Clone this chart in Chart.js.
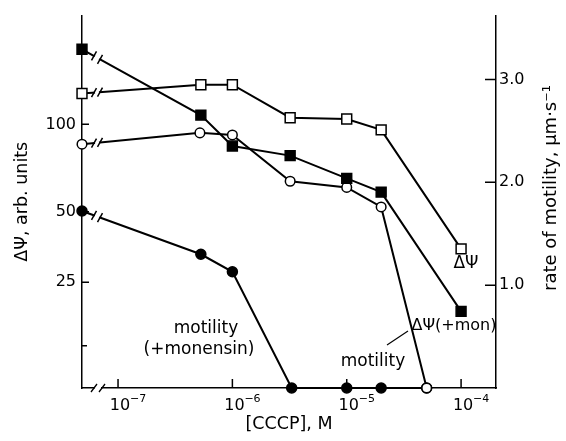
<!DOCTYPE html>
<html>
<head>
<meta charset="utf-8">
<script src="https://cdn.jsdelivr.net/npm/chart.js@4"></script>
<style>
  body { margin: 0; background: #fff; }
  canvas { display: block; }
</style>
</head>
<body>
<canvas id="chart" width="566" height="441"></canvas>
<script>
// concentrations of CCCP (M); the first entry is the control sitting on the axis break
const concSquares = [4.84e-8, 5.3e-7, 1e-6, 3.2e-6, 1e-5, 2e-5, 1e-4];
const concCircles = [4.84e-8, 5.2e-7, 1e-6, 3.2e-6, 1e-5, 2e-5, 5e-5];
const concMon = [4.84e-8, 5.3e-7, 1e-6, 3.3e-6, 1e-5, 2e-5, 5e-5];

// membrane potential, arb. units (left axis)
const dPsi = [125, 133, 133, 105, 104, 96, 35.5];
const dPsiMon = [170, 107, 85, 79, 66, 59, 17.4];

// rate of motility, um/s (right axis)
const motility = [2.37, 2.48, 2.46, 2.01, 1.95, 1.76, 0];
const motilityMon = [1.72, 1.30, 1.13, 0, 0, 0, 0];

// axis ticks
const xTickValues = [1e-7, 1e-6, 1e-5, 1e-4];
const xTickExponents = ['−7', '−6', '−5', '−4'];
const leftTickValues = [10, 25, 50, 100];
const leftTickLabels = ['', '25', '50', '100'];
const rightTickValues = [1, 2, 3];
const rightTickLabels = ['1.0', '2.0', '3.0'];

const FONT = '"DejaVu Sans", "Liberation Sans", sans-serif';

// the left axis of the original is not linear; a log(v + C) scale fits its ticks
const C = 22;
class OffsetLogScale extends Chart.LinearScale {
  getPixelForValue(v) {
    const a = Math.log(this.min + C), b = Math.log(this.max + C);
    return this.getPixelForDecimal((Math.log(v + C) - a) / (b - a));
  }
  getValueForPixel(p) {
    const a = Math.log(this.min + C), b = Math.log(this.max + C);
    return Math.exp(a + this.getDecimalForPixel(p) * (b - a)) - C;
  }
}
OffsetLogScale.id = 'offsetlog';
OffsetLogScale.defaults = { ticks: { callback: v => String(v) } };
Chart.register(OffsetLogScale);

function pts(xs, ys) {
  return xs.map((x, i) => ({ x: x, y: ys[i] }));
}

const decor = {
  id: 'decor',
  beforeDatasetsDraw(chart) {
    const { ctx, chartArea: a, scales } = chart;
    ctx.save();
    // inward tick marks
    ctx.strokeStyle = '#000';
    ctx.lineWidth = 1.5;
    ctx.beginPath();
    leftTickValues.forEach((v, i) => {
      const y = scales.y.getPixelForValue(v);
      ctx.moveTo(a.left, y);
      ctx.lineTo(a.left + (leftTickLabels[i] ? 7 : 5), y);
    });
    rightTickValues.forEach(v => {
      const y = scales.y2.getPixelForValue(v);
      ctx.moveTo(a.right, y);
      ctx.lineTo(a.right - 11, y);
    });
    xTickValues.forEach(v => {
      const x = scales.x.getPixelForValue(v);
      ctx.moveTo(x, a.bottom);
      ctx.lineTo(x, a.bottom - 9);
    });
    ctx.stroke();

    // x tick labels: 10 with a raised exponent
    ctx.fillStyle = '#000';
    ctx.textBaseline = 'middle';
    xTickValues.forEach((v, i) => {
      const x = scales.x.getPixelForValue(v);
      ctx.font = '16px ' + FONT;
      ctx.textAlign = 'center';
      ctx.fillText('10', x + 2, 406);
      ctx.font = '11px ' + FONT;
      ctx.textAlign = 'left';
      ctx.fillText(xTickExponents[i], x + 12, 399);
    });
    ctx.restore();
  },
  afterDatasetsDraw(chart) {
    const { ctx, chartArea: a } = chart;
    ctx.save();
    // axis breaks on each series
    chart.data.datasets.forEach((ds, i) => {
      const d = chart.getDatasetMeta(i).data;
      const p0 = d[0], p1 = d[1];
      const at = px => ({ x: px, y: p0.y + (p1.y - p0.y) * (px - p0.x) / (p1.x - p0.x) });
      const A = at(a.left + 12), B = at(a.left + 18);
      ctx.strokeStyle = '#fff';
      ctx.lineWidth = 5;
      ctx.beginPath();
      ctx.moveTo(A.x + 1, A.y);
      ctx.lineTo(B.x - 1, B.y);
      ctx.stroke();
      ctx.strokeStyle = '#000';
      ctx.lineWidth = 1.5;
      ctx.beginPath();
      [A, B].forEach(P => {
        ctx.moveTo(P.x - 2.5, P.y + 4.5);
        ctx.lineTo(P.x + 2.5, P.y - 4.5);
      });
      ctx.stroke();
    });
    // break on the x axis
    const yb = a.bottom;
    ctx.strokeStyle = '#fff';
    ctx.lineWidth = 4;
    ctx.beginPath();
    ctx.moveTo(a.left + 13, yb);
    ctx.lineTo(a.left + 19, yb);
    ctx.stroke();
    ctx.strokeStyle = '#000';
    ctx.lineWidth = 1.3;
    ctx.beginPath();
    [a.left + 12, a.left + 20].forEach(x => {
      ctx.moveTo(x - 3, yb + 4);
      ctx.lineTo(x + 3, yb - 4);
    });
    ctx.stroke();

    // labels
    ctx.fillStyle = '#000';
    ctx.textAlign = 'center';
    ctx.textBaseline = 'middle';
    ctx.font = '17px ' + FONT;
    ctx.fillText('motility', 206, 329);
    ctx.fillText('(+monensin)', 199, 350);
    ctx.fillText('motility', 373, 362);
    ctx.fillText('ΔΨ', 466, 264);
    ctx.font = '16px ' + FONT;
    ctx.fillText('ΔΨ(+mon)', 454, 326);
    ctx.lineWidth = 1.2;
    ctx.beginPath();
    ctx.moveTo(387, 345);
    ctx.lineTo(408, 331);
    ctx.stroke();

    // right axis title, reading bottom to top
    ctx.save();
    ctx.translate(551, 188);
    ctx.rotate(-Math.PI / 2);
    ctx.font = '18px ' + FONT;
    ctx.fillText('rate of motility, µm·s⁻¹', 0, 0);
    ctx.restore();
    ctx.restore();
  }
};

const common = {
  borderColor: '#000',
  borderWidth: 2,
  pointBorderColor: '#000',
  pointBorderWidth: 1.5,
  clip: false,
  tension: 0
};

new Chart(document.getElementById('chart').getContext('2d'), {
  type: 'line',
  data: {
    datasets: [
      Object.assign({ label: 'ΔΨ', data: pts(concSquares, dPsi), yAxisID: 'y',
        pointStyle: 'rect', pointRadius: 7, pointBackgroundColor: '#fff' }, common),
      Object.assign({ label: 'ΔΨ(+mon)', data: pts(concSquares, dPsiMon), yAxisID: 'y',
        pointStyle: 'rect', pointRadius: 7, pointBackgroundColor: '#000' }, common),
      Object.assign({ label: 'motility', data: pts(concCircles, motility), yAxisID: 'y2',
        pointStyle: 'circle', pointRadius: 4.8, pointBackgroundColor: '#fff' }, common),
      Object.assign({ label: 'motility (+monensin)', data: pts(concMon, motilityMon), yAxisID: 'y2',
        pointStyle: 'circle', pointRadius: 5, pointBackgroundColor: '#000' }, common)
    ]
  },
  options: {
    responsive: false,
    animation: false,
    layout: { padding: { top: 8, left: 0, right: 0, bottom: 0 } },
    plugins: { legend: { display: false }, tooltip: { enabled: false } },
    scales: {
      x: {
        type: 'logarithmic',
        min: 4.84e-8,
        max: 2.02e-4,
        afterBuildTicks: s => { s.ticks = xTickValues.map(v => ({ value: v })); },
        afterFit: s => { s.height = 53; },
        grid: { display: false, drawTicks: false },
        border: { display: true, color: '#000', width: 1.5 },
        ticks: { display: false },
        title: {
          display: true, text: '[CCCP], M', color: '#000',
          font: { family: FONT, size: 17.5 }, padding: { top: 0, bottom: 6 }
        }
      },
      y: {
        type: 'offsetlog',
        position: 'left',
        min: 2.8,
        max: 213.4,
        afterBuildTicks: s => { s.ticks = leftTickValues.map(v => ({ value: v })); },
        afterFit: s => { s.width = 82; },
        grid: { display: false, drawTicks: false },
        border: { display: true, color: '#000', width: 1.5 },
        ticks: {
          autoSkip: false, padding: 6, color: '#000',
          font: { family: FONT, size: 16 },
          callback: (v, i) => leftTickLabels[i]
        },
        title: {
          display: true, text: 'ΔΨ, arb. units', color: '#000',
          font: { family: FONT, size: 17.5 }, padding: { top: 12, bottom: 0 }
        }
      },
      y2: {
        type: 'linear',
        position: 'right',
        min: 0,
        max: 3.62,
        afterBuildTicks: s => { s.ticks = rightTickValues.map(v => ({ value: v })); },
        afterFit: s => { s.width = 70; },
        grid: { display: false, drawTicks: false },
        border: { display: true, color: '#000', width: 1.5 },
        ticks: {
          autoSkip: false, padding: 3, color: '#000',
          font: { family: FONT, size: 16 },
          callback: (v, i) => rightTickLabels[i]
        }
      }
    }
  },
  plugins: [decor]
});
</script>
</body>
</html>
